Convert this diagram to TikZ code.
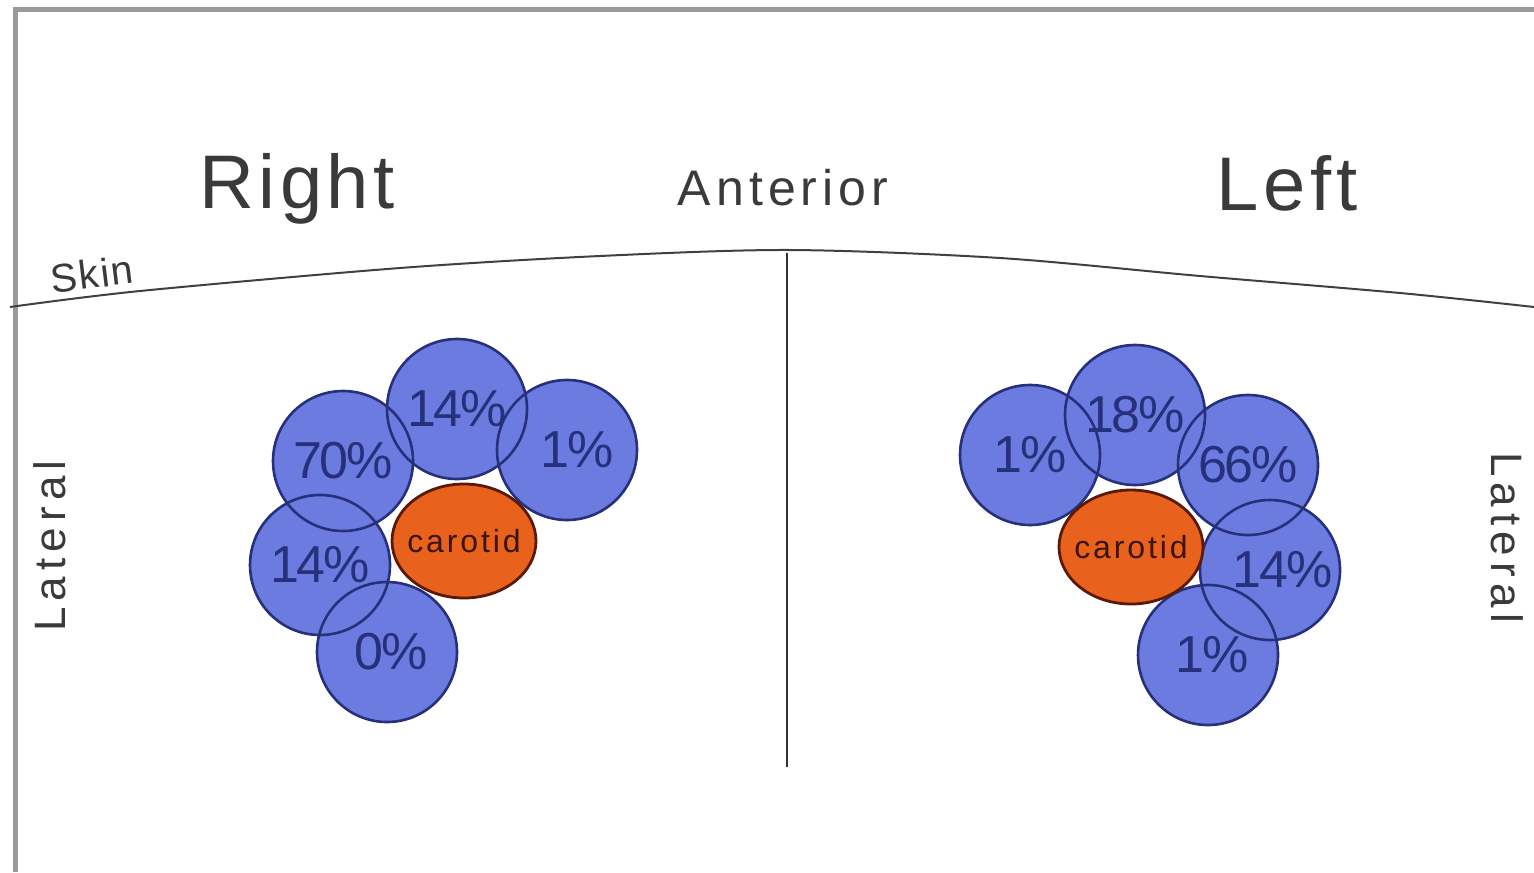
\documentclass[tikz,border=0pt]{standalone}
\usepackage{fontspec}
\setmainfont{Liberation Sans}
\usetikzlibrary{shapes.geometric,backgrounds}
\definecolor{cfill}{HTML}{6B7BE0}
\definecolor{cline}{HTML}{27307A}
\definecolor{ofill}{HTML}{E8621E}
\definecolor{oline}{HTML}{5A1A05}
\definecolor{ctext}{HTML}{3A1405}
\definecolor{txt}{HTML}{3A3A3A}
\definecolor{frame}{HTML}{9A9A9A}
\tikzset{
  pct/.style={circle, draw=cline, line width=1.3pt, inner sep=0pt, minimum size=70pt,
    text=cline, font=\fontsize{26}{26}\selectfont\addfontfeatures{LetterSpace=-4}},
  carot/.style={ellipse, draw=oline, fill=ofill, line width=1.4pt, inner sep=0pt,
    minimum width=72pt, minimum height=57pt, text=ctext,
    font=\fontsize{16}{16}\selectfont\addfontfeatures{LetterSpace=9}},
  side/.style={text=txt, font=\fontsize{38}{38}\selectfont\addfontfeatures{LetterSpace=6}},
  lbl/.style={text=txt, font=\fontsize{25}{25}\selectfont\addfontfeatures{LetterSpace=10}},
  small/.style={text=txt, font=\fontsize{20}{20}\selectfont\addfontfeatures{LetterSpace=4}},
  lat/.style={text=txt, font=\fontsize{22}{22}\selectfont\addfontfeatures{LetterSpace=14}},
  skinline/.style={draw=black!75, line width=1pt},
}
\begin{document}
\begin{tikzpicture}[x=0.5pt,y=-0.5pt]
\useasboundingbox (0,0) rectangle (1534,872);
% frame
\draw[frame, line width=2.5pt] (15,872) -- (15,10) -- (1534,10);
% skin line
\draw[skinline] plot[smooth, tension=0.5] coordinates {(10,307) (140,291) (400,268) (600,256) (790,250) (1000,258) (1200,276) (1400,293) (1534,307)};
% midline
\coordinate (mtop) at (787,253);
\coordinate (mbot) at (787,767);
\draw[black!80, line width=1pt] (mtop) -- (mbot);
% labels
\node[side] (right) at (297,189) {Right};
\node[side] (left) at (1287,183) {Left};
\node[lbl] (ant) at (783,188) {Anterior};
\node[small, rotate=7] (skin) at (92,274) {Skin};
\node[lat, rotate=90] (latl) at (50,546) {Lateral};
\node[lat, rotate=-90] (latr) at (1507,538) {Lateral};
% right-side circles
\node[pct] (r70) at (343,461) {70\%};
\node[pct] (r14a) at (457,409) {14\%};
\node[pct] (r1) at (567,450) {\ \,1\%};
\node[pct] (r14b) at (320,565) {14\%};
\node[pct] (r0) at (387,652) {\,0\%};
% left-side circles
\node[pct] (l1a) at (1030,455) {1\%};
\node[pct] (l18) at (1135,415) {18\%};
\node[pct] (l66) at (1248,465) {66\%};
\node[pct] (l14) at (1270,570) {\ \ 14\%};
\node[pct] (l1b) at (1208,655) {\,1\%};
\begin{scope}[on background layer]
  \foreach \n in {r70,r14a,r1,r14b,r0,l1a,l18,l66,l14,l1b}
    \fill[cfill] (\n.center) circle[radius=35pt];
\end{scope}
% carotids
\node[carot] (rc) at (464,541) {\makebox[0pt]{carotid}};
\node[carot] (lc) at (1131,547) {\makebox[0pt]{carotid}};
\end{tikzpicture}
\end{document}
